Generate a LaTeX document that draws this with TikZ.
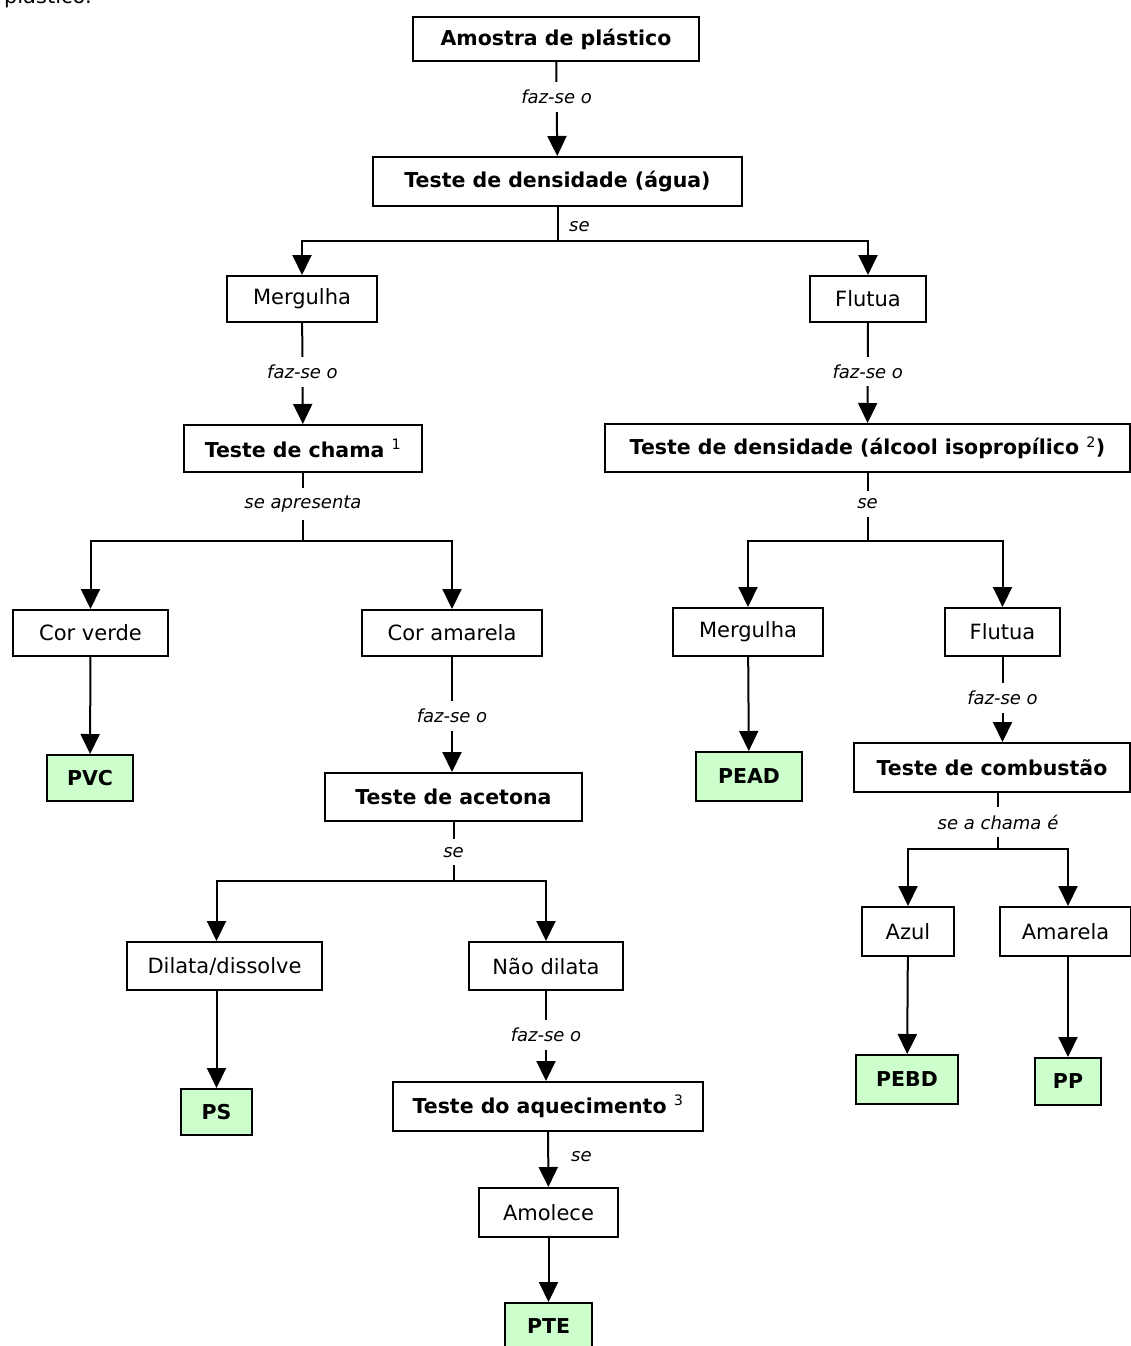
\documentclass[tikz,border=0pt]{standalone}
\usepackage{fontspec}
\setmainfont{DejaVu Sans}
\usetikzlibrary{arrows.meta}
\definecolor{leaf}{HTML}{CCFFCC}
\begin{document}
\begin{tikzpicture}[x=1pt,y=-1pt,
  box/.style={draw,line width=2pt,inner sep=0pt,font=\fontsize{20.5}{24}\selectfont\bfseries},
  opt/.style={draw,line width=2pt,inner sep=0pt,font=\fontsize{21}{24}\selectfont},
  leafbox/.style={box,fill=leaf},
  conn/.style={line width=2pt},
  arr/.style={conn,-{Triangle[width=19pt,length=20pt]}},
  lab/.style={font=\fontsize{18}{20}\selectfont\itshape,fill=white,inner xsep=2pt,inner ysep=8pt},
  side/.style={font=\fontsize{18}{20}\selectfont\itshape,inner sep=0pt,anchor=west}]
\useasboundingbox (0,0) rectangle (1131,1346);
\clip (0,0) rectangle (1131,1346);
\fill[white] (0,0) rectangle (1131,1346);

\node[anchor=base east,inner sep=0pt,font=\fontsize{21}{24}\selectfont] (frag) at (92,4) {plástico.};

% nodes
\node[box,minimum width=286pt,minimum height=44pt] (a) at (556,39) {Amostra de plástico};
\node[box,minimum width=369pt,minimum height=49pt] (b) at (557.5,181.5) {Teste de densidade (água)};
\node[opt,minimum width=150pt,minimum height=46pt] (m1) at (302,299) {Mergulha};
\node[opt,minimum width=116pt,minimum height=46pt] (f1) at (868,299) {Flutua};
\node[box,minimum width=238pt,minimum height=47pt] (chama) at (303,448.5) {Teste de chama \textsuperscript{\mdseries 1}};
\node[box,minimum width=525pt,minimum height=48pt] (dens2) at (867.5,448) {Teste de densidade (álcool isopropílico \textsuperscript{\mdseries 2})};
\node[opt,minimum width=155pt,minimum height=46pt] (verde) at (90.5,633) {Cor verde};
\node[opt,minimum width=180pt,minimum height=46pt] (amar) at (452,633) {Cor amarela};
\node[leafbox,minimum width=86pt,minimum height=46pt] (pvc) at (90,778) {PVC};
\node[box,minimum width=257pt,minimum height=48pt] (acet) at (453.5,797) {Teste de acetona};
\node[opt,minimum width=195pt,minimum height=48pt] (dil) at (224.5,966) {Dilata/dissolve};
\node[opt,minimum width=154pt,minimum height=48pt] (nao) at (546,966) {Não dilata};
\node[leafbox,minimum width=71pt,minimum height=46pt] (ps) at (216.5,1112) {PS};
\node[box,minimum width=310pt,minimum height=49pt] (aquec) at (548,1106.5) {Teste do aquecimento \textsuperscript{\mdseries 3}};
\node[opt,minimum width=139pt,minimum height=49pt] (amol) at (548.5,1212.5) {Amolece};
\node[leafbox,minimum width=87pt,minimum height=47pt] (pte) at (548.5,1326.5) {PTE};
\node[opt,minimum width=150pt,minimum height=48pt] (m2) at (748,632) {Mergulha};
\node[opt,minimum width=115pt,minimum height=48pt] (f2) at (1002.5,632) {Flutua};
\node[leafbox,minimum width=106pt,minimum height=49pt] (pead) at (749,776.5) {PEAD};
\node[box,minimum width=276pt,minimum height=49pt] (comb) at (992,767.5) {Teste de combustão};
\node[opt,minimum width=92pt,minimum height=49pt] (azul) at (908,931.5) {Azul};
\node[opt,minimum width=131pt,minimum height=49pt] (amar2) at (1065.5,931.5) {Amarela};
\node[leafbox,minimum width=102pt,minimum height=49pt] (pebd) at (907,1079.5) {PEBD};
\node[leafbox,minimum width=66pt,minimum height=47pt] (pp) at (1068,1081.5) {PP};

% connectors
\draw[arr] (a) -- (b) node[lab,pos=.375] {faz-se o};
\draw[conn] (b.south) -- ++(0,34) coordinate (s0);
\node[side] (lse0) at (569,227) {se};
\draw[arr] (s0) -| (m1.north);
\draw[arr] (s0) -| (f1.north);

\draw[arr] (m1) -- (chama) node[lab,pos=.485] {faz-se o};
\draw[arr] (f1) -- (dens2) node[lab,pos=.485] {faz-se o};

\draw[conn] (chama.south) -- ++(0,68) coordinate (s1) node[lab,pos=.456] {se apresenta};
\draw[arr] (s1) -| (verde.north);
\draw[arr] (s1) -| (amar.north);
\draw[arr] (verde) -- (pvc);
\draw[arr] (amar) -- (amar |- acet.north) node[lab,pos=.51] {faz-se o};

\draw[conn] (acet.south) -- ++(0,59) coordinate (s3) node[lab,pos=.51] {se};
\draw[arr] (s3) -| ([xshift=-8pt]dil.north);
\draw[arr] (s3) -| (nao.north);
\draw[arr] ([xshift=-8pt]dil.south) -- (ps);
\draw[arr] (nao) -- (nao |- aquec.north) node[lab,pos=.49] {faz-se o};
\draw[arr] (aquec) -- (amol);
\node[side] (lse1) at (571,1157) {se};
\draw[arr] (amol) -- (pte);

\draw[conn] (dens2.south) -- ++(0,68) coordinate (s2) node[lab,pos=.456] {se};
\draw[arr] (s2) -| (m2.north);
\draw[arr] (s2) -| (f2.north);
\draw[arr] (m2) -- (pead);
\draw[arr] (f2) -- (f2 |- comb.north) node[lab,pos=.48] {faz-se o};

\draw[conn] ([xshift=6pt]comb.south) -- ++(0,56) coordinate (s5) node[lab,pos=.52] {se a chama é};
\draw[arr] (s5) -| (azul.north);
\draw[arr] (s5) -| (pp.north |- amar2.north);
\draw[arr] (azul) -- (pebd);
\draw[arr] (pp.north |- amar2.south) -- (pp);
\end{tikzpicture}
\end{document}
